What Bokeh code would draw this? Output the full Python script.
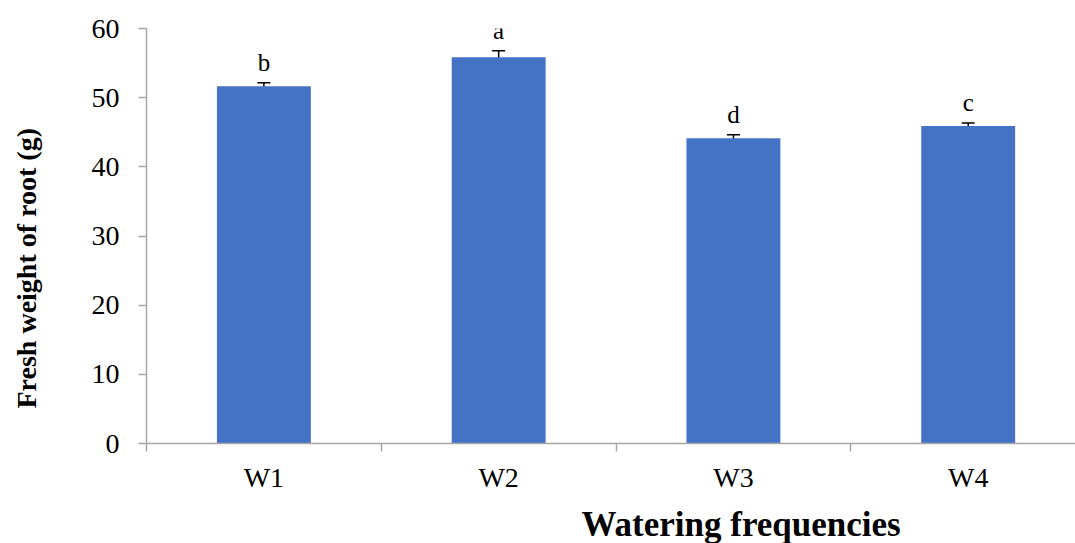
from bokeh.plotting import figure
from bokeh.models import (ColumnDataSource, Range1d, FixedTicker, Whisker,
                          TeeHead, LinearAxis, Title, LabelSet)
from bokeh.embed import file_html
from bokeh.resources import INLINE

categories = ["W1", "W2", "W3", "W4"]
fresh_weight = [51.65, 55.85, 44.15, 45.9]
std_error = [0.50, 0.95, 0.48, 0.43]
letters = ["b", "a", "d", "c"]
y_ticks = [0, 10, 20, 30, 40, 50, 60]
x_title = "Watering frequencies"
y_title = "Fresh weight of root (g)"

FONT = "Liberation Serif"
AXIS_GREY = "#A6A6A6"

positions = list(range(1, len(categories) + 1))
boundaries = [x - 0.5 for x in positions] + [positions[-1] + 0.5]
upper = [v + e for v, e in zip(fresh_weight, std_error)]
lower = [v - e for v, e in zip(fresh_weight, std_error)]

src = ColumnDataSource(dict(x=positions, top=fresh_weight, upper=upper,
                            lower=lower, letter=letters))

p = figure(width=1075, height=543,
           x_range=Range1d(0.5, 4.457), y_range=Range1d(0, 60),
           output_backend="svg", toolbar_location=None,
           x_axis_location=None, y_axis_location=None,
           min_border_left=145, min_border_top=28,
           min_border_bottom=100, min_border_right=0)
p.outline_line_color = None
p.background_fill_color = "white"
p.border_fill_color = "white"
p.xgrid.visible = False
p.ygrid.visible = False


def blank_spacer(size, tick):
    # an invisible axis used only to reserve room in a side panel
    ax = LinearAxis(ticker=FixedTicker(ticks=[tick]),
                    major_label_overrides={tick: ""})
    ax.axis_line_color = None
    ax.major_tick_line_color = "white"
    ax.minor_tick_line_color = None
    ax.major_tick_out = size
    ax.major_tick_in = 0
    ax.major_label_standoff = 0
    ax.major_label_text_font_size = "0px"
    return ax


# y axis
yaxis = LinearAxis(ticker=FixedTicker(ticks=y_ticks))
yaxis.axis_line_color = AXIS_GREY
yaxis.axis_line_width = 1.5
yaxis.major_tick_line_color = AXIS_GREY
yaxis.major_tick_line_width = 1.5
yaxis.major_tick_out = 8
yaxis.major_tick_in = 0
yaxis.minor_tick_line_color = None
yaxis.major_label_text_font = FONT
yaxis.major_label_text_font_size = "28px"
yaxis.major_label_text_color = "black"
yaxis.major_label_standoff = 19
p.add_layout(yaxis, "left")
p.add_layout(blank_spacer(38, y_ticks[0]), "left")

# x axis
xaxis = LinearAxis(ticker=FixedTicker(ticks=positions, minor_ticks=boundaries),
                   major_label_overrides={x: c for x, c in zip(positions, categories)})
xaxis.axis_line_color = AXIS_GREY
xaxis.axis_line_width = 1.5
xaxis.major_tick_line_color = None
xaxis.major_tick_out = 0
xaxis.major_tick_in = 0
xaxis.minor_tick_line_color = AXIS_GREY
xaxis.minor_tick_line_width = 1.5
xaxis.minor_tick_out = 8
xaxis.minor_tick_in = 0
xaxis.major_label_text_font = FONT
xaxis.major_label_text_font_size = "28px"
xaxis.major_label_text_color = "black"
xaxis.major_label_standoff = 10
p.add_layout(xaxis, "below")
p.add_layout(blank_spacer(7, positions[0]), "below")

p.add_layout(Title(text=y_title, align="left", offset=35,
                   text_font=FONT, text_font_style="bold",
                   text_font_size="28px", text_color="black", standoff=17),
             "left")
p.add_layout(Title(text=x_title, align="left", offset=435,
                   text_font=FONT, text_font_style="bold",
                   text_font_size="35px", text_color="black", standoff=0),
             "below")

p.vbar(x="x", top="top", bottom=0, width=0.4, source=src,
       fill_color="#4472C4", line_color=None)

p.add_layout(Whisker(source=src, base="x", upper="upper", lower="lower",
                     line_color="black", line_width=1.5,
                     upper_head=TeeHead(size=13, line_color="black", line_width=1.5),
                     lower_head=TeeHead(size=13, line_color="black", line_width=1.5)))

p.add_layout(LabelSet(x="x", y="upper", text="letter", source=src,
                      text_align="center", text_baseline="alphabetic", y_offset=12,
                      text_font=FONT, text_font_size="25px", text_color="black"))

open("out.html", "w").write(file_html(p, INLINE))
